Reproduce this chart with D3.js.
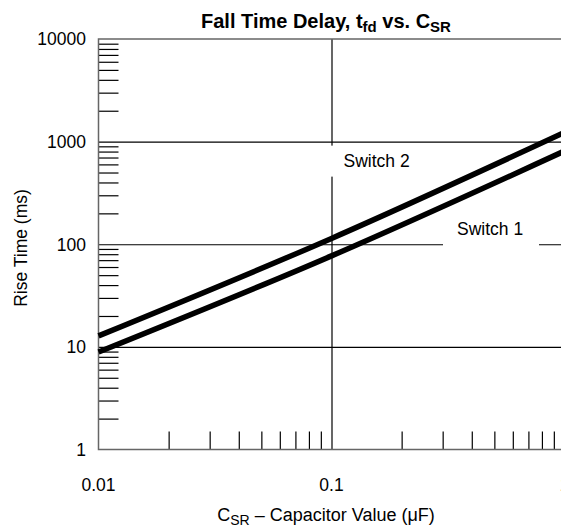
<!DOCTYPE html>
<html>
<head>
<meta charset="utf-8">
<script src="https://cdn.jsdelivr.net/npm/d3@7"></script>
<style>
  body { margin: 0; background: #fff; }
  text { font-family: "Liberation Sans", Arial, Helvetica, sans-serif; fill: #000; }
</style>
</head>
<body>
<div id="chart"></div>
<script>
// capacitor values (uF) and read-off delay times (ms)
const capValues = [0.01, 0.1, 1];
const switch1Times = [8.9, 77, 810];
const switch2Times = [12.8, 114, 1230];

const xTickValues = [0.01, 0.1, 1];
const xTickLabels = ["0.01", "0.1", "1"];
const yTickValues = [1, 10, 100, 1000, 10000];
const yTickLabels = ["1", "10", "100", "1000", "10000"];
const yGridValues = [10, 100, 1000];
const xGridValues = [0.1];

const width = 561,
  height = 527,
  margin = { top: 39, bottom: 77.5, left: 98.5, right: -3.5 };

const plotW = width - margin.left - margin.right,
  plotH = height - margin.top - margin.bottom;

const xScale = d3.scaleLog()
  .domain([0.01, 1])
  .range([margin.left, width - margin.right]);

const yScale = d3.scaleLog()
  .domain([1, 10000])
  .range([height - margin.bottom, margin.top]);

// minor ticks 2..9 within each decade
const yMinor = [];
[1, 10, 100, 1000].forEach(d => d3.range(2, 10).forEach(k => yMinor.push(d * k)));
const xMinor = [];
[0.01, 0.1].forEach(d => d3.range(2, 10).forEach(k => xMinor.push(+(d * k).toFixed(3))));

const svg = d3.select("#chart")
  .append("svg")
  .attr("width", width)
  .attr("height", height);

// grid lines
svg.append("g")
  .attr("class", "grid")
  .attr("transform", `translate(${margin.left},0)`)
  .call(d3.axisLeft(yScale).tickValues(yGridValues).tickSize(-plotW).tickFormat(""))
  .call(g => g.select(".domain").remove())
  .call(g => g.selectAll("line").attr("stroke", "#000").attr("stroke-width", 1.2));

svg.append("g")
  .attr("class", "grid")
  .attr("transform", `translate(0,${height - margin.bottom})`)
  .call(d3.axisBottom(xScale).tickValues(xGridValues).tickSize(-plotH).tickFormat(""))
  .call(g => g.select(".domain").remove())
  .call(g => g.selectAll("line").attr("stroke", "#000").attr("stroke-width", 1.2));

// minor ticks
svg.append("g")
  .attr("transform", `translate(${margin.left},0)`)
  .call(d3.axisLeft(yScale).tickValues(yMinor).tickSize(-20).tickFormat(""))
  .call(g => g.select(".domain").remove())
  .call(g => g.selectAll("line").attr("stroke", "#000").attr("stroke-width", 1.2));

svg.append("g")
  .attr("transform", `translate(0,${height - margin.bottom})`)
  .call(d3.axisBottom(xScale).tickValues(xMinor).tickSize(-18).tickFormat(""))
  .call(g => g.select(".domain").remove())
  .call(g => g.selectAll("line").attr("stroke", "#000").attr("stroke-width", 1.2));

// frame (left, bottom, top)
const frame = svg.append("g").attr("stroke", "#666").attr("stroke-width", 1.5).attr("fill", "none");
frame.append("path")
  .attr("d", `M${width - margin.right},${yScale(10000)}H${xScale(0.01)}V${yScale(1)}H${width - margin.right}`);

// white boxes behind the switch labels
svg.append("rect")
  .attr("x", xScale(0.1) - 8).attr("y", yScale(1000) + 4)
  .attr("width", 96).attr("height", 31)
  .attr("fill", "#fff");
svg.append("rect")
  .attr("x", 443).attr("y", yScale(100) - 30)
  .attr("width", 96).attr("height", 34)
  .attr("fill", "#fff");

// curves
const lineFunc = d3.line()
  .x(d => xScale(d[0]))
  .y(d => yScale(d[1]))
  .curve(d3.curveNatural);

[switch1Times, switch2Times].forEach(series => {
  svg.append("path")
    .datum(capValues.map((c, i) => [c, series[i]]))
    .attr("fill", "none")
    .attr("stroke", "#000")
    .attr("stroke-width", 5.5)
    .attr("d", lineFunc);
});

// switch labels
svg.append("text")
  .attr("x", xScale(0.1) + 12).attr("y", yScale(1000) + 25)
  .attr("font-size", 17.5)
  .text("Switch 2");
svg.append("text")
  .attr("x", 457).attr("y", yScale(100) - 9)
  .attr("font-size", 17.5)
  .text("Switch 1");

// tick labels
svg.append("g")
  .selectAll("text")
  .data(yTickValues)
  .join("text")
  .attr("x", 86)
  .attr("y", d => yScale(d))
  .attr("dy", "0.36em")
  .attr("text-anchor", "end")
  .attr("font-size", 17.5)
  .text((d, i) => yTickLabels[i]);

svg.append("g")
  .selectAll("text")
  .data(xTickValues)
  .join("text")
  .attr("x", d => xScale(d))
  .attr("y", 491)
  .attr("text-anchor", "middle")
  .attr("font-size", 17.5)
  .text((d, i) => xTickLabels[i]);

// title
const title = svg.append("text")
  .attr("x", 326).attr("y", 28)
  .attr("text-anchor", "middle")
  .attr("font-size", 20)
  .attr("font-weight", "bold");
title.append("tspan").text("Fall Time Delay, t");
title.append("tspan").attr("font-size", 15).attr("dy", 4).text("fd");
title.append("tspan").attr("dy", -4).text(" vs. C");
title.append("tspan").attr("font-size", 15).attr("dy", 4).text("SR");

// axis titles
const xTitle = svg.append("text")
  .attr("x", 326).attr("y", 521)
  .attr("text-anchor", "middle")
  .attr("font-size", 18);
xTitle.append("tspan").text("C");
xTitle.append("tspan").attr("font-size", 14).attr("dy", 4).text("SR");
xTitle.append("tspan").attr("dy", -4).text(" \u2013 Capacitor Value (\u03bcF)");

svg.append("text")
  .attr("transform", `translate(27,${248}) rotate(-90)`)
  .attr("text-anchor", "middle")
  .attr("font-size", 17.5)
  .text("Rise Time (ms)");
</script>
</body>
</html>
